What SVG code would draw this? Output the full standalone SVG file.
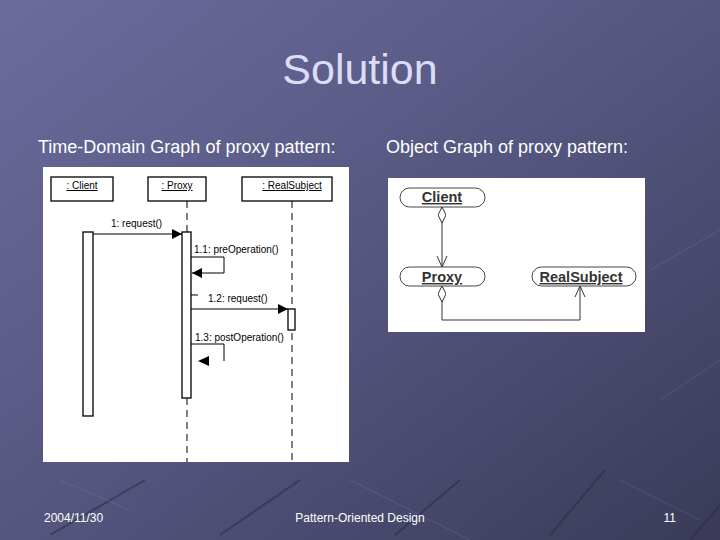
<svg xmlns="http://www.w3.org/2000/svg" width="720" height="540" viewBox="0 0 720 540">
<defs>
<linearGradient id="bg" x1="0" y1="0" x2="1" y2="1">
<stop offset="0" stop-color="#6b6c9d"/>
<stop offset="0.5" stop-color="#55567f"/>
<stop offset="1" stop-color="#3a3a58"/>
</linearGradient>
<marker id="filled" viewBox="0 0 10 10" refX="10" refY="5" markerWidth="10" markerHeight="10" markerUnits="userSpaceOnUse" orient="auto">
<path d="M0,0 L10,5 L0,10 Z" fill="#000"/>
</marker>
<marker id="open" viewBox="0 0 12 12" refX="11" refY="6" markerWidth="12" markerHeight="12" markerUnits="userSpaceOnUse" orient="auto">
<path d="M0,1 L11,6 L0,11" fill="none" stroke="#333" stroke-width="1"/>
</marker>
<marker id="diamond" viewBox="0 0 16 8" refX="0" refY="4" markerWidth="16" markerHeight="8" markerUnits="userSpaceOnUse" orient="auto">
<path d="M0,4 L8,0 L16,4 L8,8 Z" fill="#fff" stroke="#333" stroke-width="1"/>
</marker>
</defs>
<style>
.slide{font-family:"Liberation Sans",Arial,sans-serif}
.head{fill:#ffffff;font-size:18px}
.foot{fill:#ffffff;font-size:12px}
.box{fill:#fff;stroke:#000;stroke-width:1.3}
.seqt{font-family:"Liberation Sans",Arial,sans-serif;font-size:10px;fill:#000}
.life{stroke:#000;stroke-width:1;stroke-dasharray:7,5;fill:none}
.msg{stroke:#000;stroke-width:1;fill:none}
.obj{fill:#fff;stroke:#444;stroke-width:1}
.objt{font-family:"Liberation Sans",Arial,sans-serif;font-size:14.5px;font-weight:bold;fill:#333;text-decoration:underline;text-anchor:middle}
.link{stroke:#333;stroke-width:1;fill:none}
.deco{stroke:#2e2e48;stroke-width:2;opacity:0.6}
.decol{stroke:#7a7aa8;stroke-width:1;opacity:0.35}
</style>
<rect width="720" height="540" fill="url(#bg)"/>
<g id="decoration">
<line class="deco" x1="50" y1="535" x2="145" y2="480"/>
<line class="deco" x1="220" y1="535" x2="300" y2="480"/>
<line class="deco" x1="395" y1="535" x2="460" y2="480"/>
<line class="deco" x1="550" y1="535" x2="605" y2="470"/>
<line class="deco" x1="690" y1="540" x2="720" y2="505"/>
<line class="decol" x1="60" y1="480" x2="130" y2="510"/>
<line class="decol" x1="350" y1="480" x2="470" y2="540"/>
<line class="decol" x1="620" y1="480" x2="700" y2="520"/>
<line class="decol" x1="650" y1="270" x2="720" y2="230"/>
<line class="decol" x1="660" y1="400" x2="720" y2="360"/>
</g>
<g id="titles" class="slide">
<text x="360" y="84" text-anchor="middle" font-size="43" fill="#dddcf6">Solution</text>
<text class="head" x="38" y="153">Time-Domain Graph of proxy pattern:</text>
<text class="head" x="386" y="153">Object Graph of proxy pattern:</text>
</g>
<g id="sequence">
<rect x="43" y="167" width="306" height="295" fill="#ffffff"/>
<g id="client-lifeline">
<rect class="box" x="51" y="177" width="62" height="24"/>
<text class="seqt" x="82" y="189" text-anchor="middle" text-decoration="underline">: Client</text>
<rect class="box" x="83" y="232" width="10" height="184"/>
</g>
<g id="proxy-lifeline">
<rect class="box" x="148" y="177" width="58" height="24"/>
<text class="seqt" x="177" y="189" text-anchor="middle" text-decoration="underline">: Proxy</text>
<line class="life" x1="187" y1="201" x2="187" y2="232"/>
<line class="life" x1="187" y1="398" x2="187" y2="462"/>
<rect class="box" x="182" y="232" width="9" height="166"/>
</g>
<g id="realsubject-lifeline">
<rect class="box" x="242" y="177" width="90" height="24"/>
<text class="seqt" x="292" y="189" text-anchor="middle" text-decoration="underline">: RealSubject</text>
<line class="life" x1="292" y1="201" x2="292" y2="462"/>
<rect class="box" x="288" y="309" width="7" height="21"/>
</g>
<g id="messages">
<line class="msg" x1="93" y1="234" x2="182" y2="234" marker-end="url(#filled)"/>
<text class="seqt" x="111" y="227">1: request()</text>
<path class="msg" d="M191,257 H224 V273 H192" marker-end="url(#filled)"/>
<text class="seqt" x="194" y="253">1.1: preOperation()</text>
<line class="msg" x1="191" y1="295" x2="198" y2="295"/>
<line class="msg" x1="191" y1="309" x2="288" y2="309" marker-end="url(#filled)"/>
<text class="seqt" x="208" y="302">1.2: request()</text>
<path class="msg" d="M191,344 H224 V361"/>
<path d="M209,356 L198,361 L209,366 Z" fill="#000"/>
<text class="seqt" x="195" y="341">1.3: postOperation()</text>
</g>
</g>
<g id="object-graph">
<rect x="388" y="178" width="257" height="154" fill="#ffffff"/>
<g id="connectors">
<line class="link" x1="442" y1="207" x2="442" y2="267" marker-start="url(#diamond)" marker-end="url(#open)"/>
<path class="link" d="M442,286 V320 H580 V286" marker-start="url(#diamond)" marker-end="url(#open)"/>
</g>
<g id="client">
<rect class="obj" x="400" y="188" width="85" height="19" rx="9.5"/>
<text class="objt" x="442" y="202">Client</text>
</g>
<g id="proxy">
<rect class="obj" x="400" y="267" width="85" height="19" rx="9.5"/>
<text class="objt" x="442" y="282">Proxy</text>
</g>
<g id="realsubject">
<rect class="obj" x="532" y="267" width="104" height="19" rx="9.5"/>
<text class="objt" x="581" y="282">RealSubject</text>
</g>
</g>
<g id="footer" class="slide">
<text class="foot" x="44" y="522">2004/11/30</text>
<text class="foot" x="360" y="522" text-anchor="middle">Pattern-Oriented Design</text>
<text class="foot" x="676" y="522" text-anchor="end">11</text>
</g>
</svg>
